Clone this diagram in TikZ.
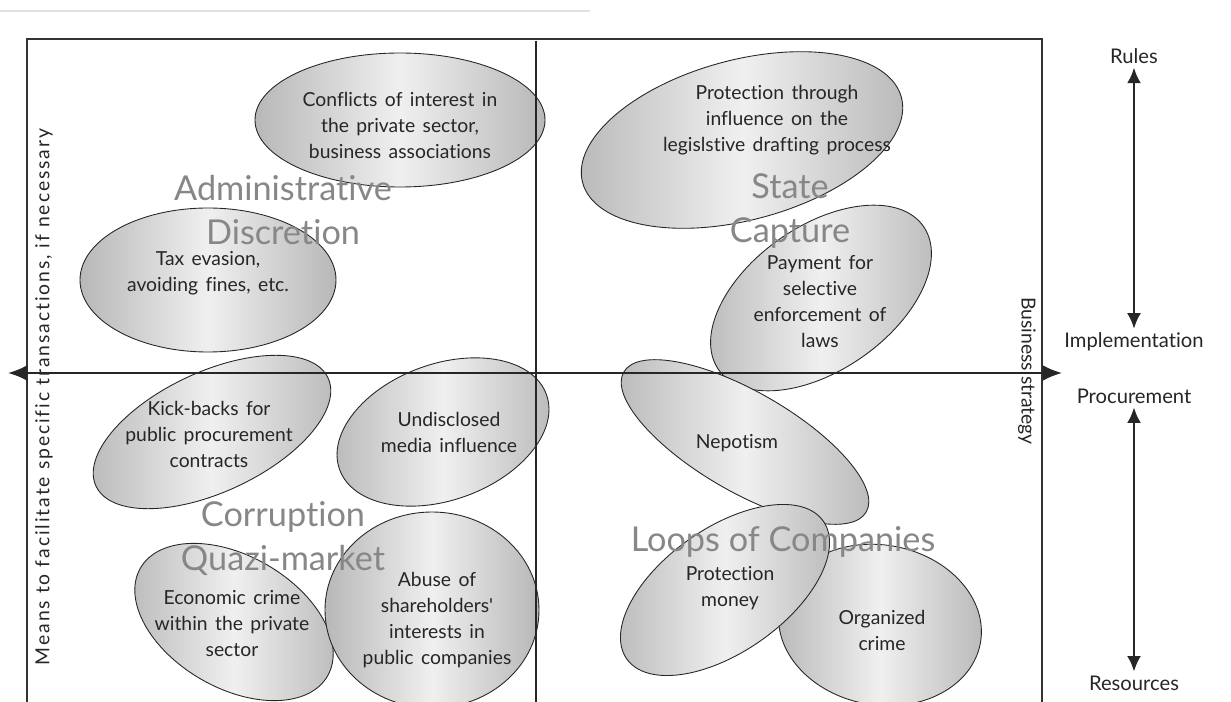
\documentclass[tikz,border=0pt]{standalone}
\usepackage{fontspec}
\setmainfont{Lato}[Ligatures=NoCommon]
\newfontfamily\blobfont{Lato}[WordSpace=1.5, Ligatures=NoCommon]
\usetikzlibrary{arrows.meta}
\usetikzlibrary{positioning}

\tikzset{
  blob/.style={draw=black!85, line width=0.5pt, left color=black!28, right color=black!28, middle color=black!6},
  blobtext/.style={font=\blobfont\fontsize{11}{14.8}\selectfont, text=black!85, align=center, inner sep=0pt},
  bigword/.style={font=\fontsize{19.5}{25}\selectfont, text=black!47, align=center, inner sep=0pt},
  sidetext/.style={font=\fontsize{11.5}{14}\selectfont, text=black!85, inner sep=2pt},
  frameline/.style={draw=black!80, line width=0.6pt},
  axisline/.style={draw=black!85, line width=1.1pt},
  bigarrow/.style={draw=black!85, line width=1.6pt, {Latex[length=9pt,width=8pt]}-{Latex[length=9pt,width=8pt]}}
}

\begin{document}
\begin{tikzpicture}[x=0.02cm,y=-0.02cm]
\useasboundingbox (0,0) rectangle (1231,702);
\draw[black!12, line width=1.5pt] (0,11) -- (590,11);

\path[blob] (400,120) ellipse [x radius=145, y radius=67];
\path[blob] (742,140) ellipse [x radius=165, y radius=80, rotate=15];
\path[blob] (208,280) ellipse [x radius=128, y radius=72];
\path[blob] (821,298) ellipse [x radius=125, y radius=72, rotate=35];
\path[blob] (212,432) ellipse [x radius=128, y radius=60, rotate=25];
\path[blob] (443,432) ellipse [x radius=110, y radius=68, rotate=20];
\path[blob] (745,442) ellipse [x radius=140, y radius=50, rotate=-30];
\path[blob] (234,622) ellipse [x radius=108, y radius=66, rotate=-30];
\path[blob] (432,610) ellipse [x radius=107, y radius=98];
\path[blob] (880,625) ellipse [x radius=102, y radius=80, rotate=-10];
\path[blob] (725,590) ellipse [x radius=120, y radius=62, rotate=35];

\node[blobtext] (conflicts) at (400,125) {Conflicts of interest in\\the private sector,\\business associations};
\node[blobtext] (drafting) at (777,120) {Protection through\\influence on the\\legislstive drafting process};
\node[blobtext] (tax) at (208,273) {Tax evasion,\\avoiding fines, etc.};
\node[blobtext] (payment) at (820,302) {Payment for\\selective\\enforcement of\\laws};
\node[blobtext] (kickbacks) at (209,434) {Kick-backs for\\public procurement\\contracts};
\node[blobtext] (media) at (449,432) {Undisclosed\\media influence};
\node[blobtext] (nepotism) at (737,443) {Nepotism};
\node[blobtext] (economic) at (232,624) {Economic crime\\within the private\\sector};
\node[blobtext] (abuse) at (437,620) {Abuse of\\shareholders'\\interests in\\public companies};
\node[blobtext] (money) at (730,588) {Protection\\money};
\node[blobtext] (organized) at (882,630) {Organized\\crime};

\node[bigword] (admin) at (283,210) {Administrative\\Discretion};
\node[bigword] (capture) at (790,211) {State\\Capture};
\node[bigword] (quazi) at (283,539) {Corruption\\Quazi-market};
\node[bigword] (loops) at (783,542) {Loops of Companies};

\draw[frameline] (27,702) -- (27,39) -- (1042,39) -- (1042,702);
\coordinate (midtop) at (536,41);
\coordinate (midbot) at (536,702);
\draw[axisline] (midtop) -- (midbot);
\coordinate (westend) at (8,373);
\coordinate (eastend) at (1062,373);
\draw[axisline, {Latex[length=11pt,width=9pt]}-{Latex[length=11pt,width=9pt]}] (westend) -- (eastend);

\node[font=\fontsize{11}{13}\selectfont\addfontfeature{LetterSpace=10}, text=black!85, rotate=90] (means) at (44,397) {Means to facilitate specific transactions, if necessary};
\node[font=\fontsize{11}{13}\selectfont, text=black!85, rotate=-90] (business) at (1027,371) {Business strategy};

\node[sidetext] (rules) at (1134,56) {Rules};
\node[sidetext] (implementation) at (1134,342) {Implementation};
\node[sidetext] (procurement) at (1134,396) {Procurement};
\node[sidetext] (resources) at (1134,683) {Resources};
\draw[bigarrow] (rules) -- (implementation);
\draw[bigarrow] (procurement) -- (resources);
\end{tikzpicture}
\end{document}
